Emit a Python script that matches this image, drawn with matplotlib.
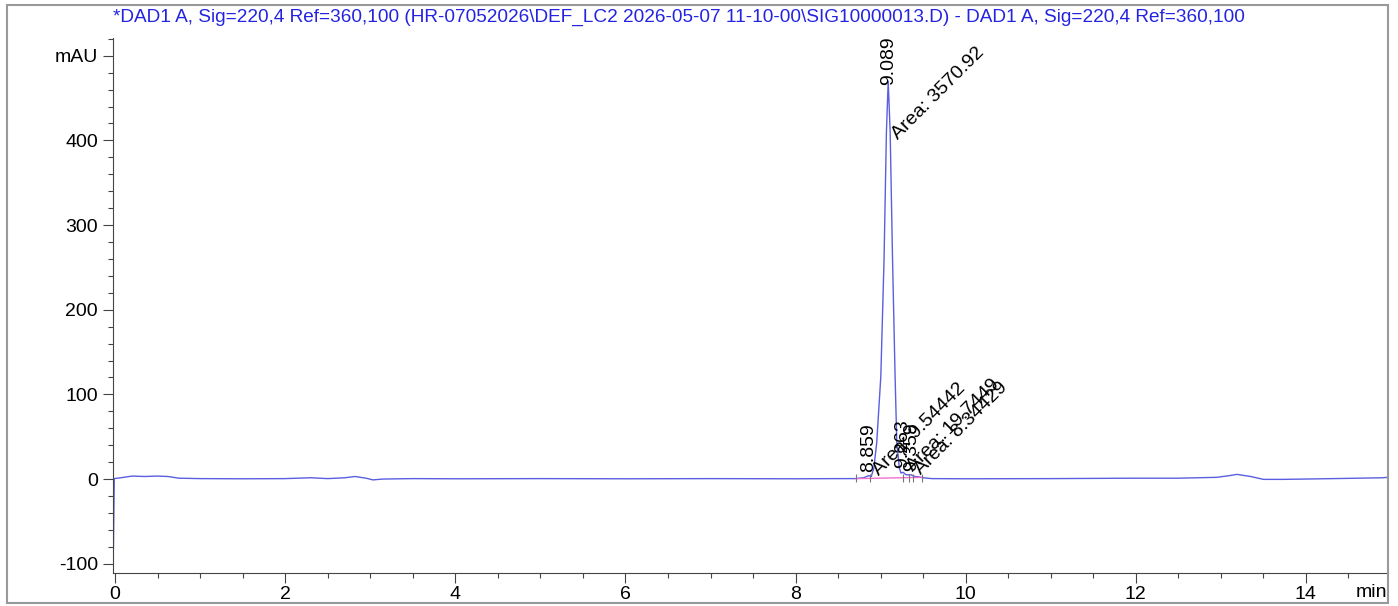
import matplotlib
matplotlib.use('Agg')
import matplotlib.pyplot as plt
from matplotlib.patches import Rectangle
from matplotlib.ticker import MultipleLocator

plt.rcParams['font.family'] = ['Liberation Sans', 'DejaVu Sans']

titulo = ('*DAD1 A, Sig=220,4 Ref=360,100 (HR-07052026\\DEF_LC2 2026-05-07 '
          '11-10-00\\SIG10000013.D) - DAD1 A, Sig=220,4 Ref=360,100')

# Cromatograma (min, mAU)
tiempo = [-0.02, -0.01, 0.1, 0.2, 0.35, 0.5, 0.62, 0.75, 1.0, 1.5, 2.0, 2.3,
          2.5, 2.7, 2.82, 2.95, 3.03, 3.15, 3.5, 4.0, 5.0, 6.0, 7.0, 8.0, 8.5,
          8.7, 8.8, 8.859, 8.89, 8.92, 8.954, 9.002, 9.04, 9.068, 9.089, 9.112,
          9.14, 9.17, 9.19, 9.22, 9.24, 9.263, 9.30, 9.359, 9.40, 9.452, 9.5,
          9.6, 10.0, 11.0, 12.0, 12.5, 12.95, 13.1, 13.19, 13.35, 13.5, 13.73,
          14.0, 14.5, 14.9, 14.96]
senal = [-82, 0.5, 2, 3.5, 3, 3.5, 3, 1, 0.5, 0.3, 0.5, 1.5,
         0.5, 1.5, 3, 1, -1, 0, 0.5, 0.3, 0.5, 0.3, 0.5, 0.3, 0.5,
         0.5, 1.5, 4, 3, 13, 43, 121, 259, 410, 470, 410,
         259, 121, 43, 13, 7, 8, 5, 5, 3, 2.5, 1.5,
         0.5, 0.3, 0.5, 1, 1, 2, 4, 5.5, 3, -0.4, -0.4,
         0, 0.8, 1.5, 2]

picos_tr = [8.859, 9.089, 9.263, 9.359]
picos_altura = [4, 470, 8, 5]
picos_area = ['9.54442', '3570.92', '19.7449', '8.34429']

base_t = [8.71, 9.486]
base_y = [0.5, 2.0]
marcas_t = [8.71, 8.875, 9.263, 9.333, 9.38, 9.486]

fig = plt.figure(figsize=(13.98, 6.06), dpi=100)
ax = fig.add_axes([113 / 1398, 33 / 606, 1275 / 1398, 535 / 606])

ax.plot(tiempo, senal, color='#5a5ee0', lw=1.0)
ax.plot(base_t, base_y, color='#f070d0', lw=1.0)
ax.plot(marcas_t, [1] * len(marcas_t), ls='none', marker='|', ms=6,
        mew=0.8, color='#777777')

for tr, h, area in zip(picos_tr, picos_altura, picos_area):
    dy = 4 if h < 50 else -4
    ax.annotate(f'{tr:.3f}', xy=(tr, h), xytext=(0, dy),
                textcoords='offset pixels', rotation=90, ha='center',
                va='bottom', fontsize=14)
    ax.annotate('Area: ' + area, xy=(tr, min(h, 400)), xytext=(10, 0),
                textcoords='offset pixels', rotation=45,
                rotation_mode='anchor', ha='left', va='baseline', fontsize=14)

ax.set_xlim(-0.025, 14.965)
ax.set_ylim(-111, 521)

ax.set_xticks(range(0, 15, 2))
ax.xaxis.set_minor_locator(MultipleLocator(0.5))
ax.set_yticks([-100, 0, 100, 200, 300, 400, 500])
ax.set_yticklabels(['-100', '0', '100', '200', '300', '400', 'mAU'])
ax.yaxis.set_minor_locator(MultipleLocator(20))

# longitudes en puntos (10 px y 5 px a 100 dpi)
ax.tick_params(axis='both', which='major', length=7.2, width=0.8,
               color='#444444', labelsize=14)
ax.tick_params(axis='both', which='minor', length=3.6, width=0.8,
               color='#444444')
ax.tick_params(axis='x', pad=2)
ax.tick_params(axis='y', pad=3.6)

for lado in ['top', 'right']:
    ax.spines[lado].set_visible(False)
for lado in ['left', 'bottom']:
    ax.spines[lado].set_color('#444444')
    ax.spines[lado].set_linewidth(0.8)

ax.text(0.999, -0.02, 'min', transform=ax.transAxes, ha='right', va='top',
        fontsize=14)

fig.text(0.486, 0.972, titulo, color='#2424e0', ha='center', va='center',
         fontsize=13.7)

fig.patches.append(Rectangle((7 / 1398, 3 / 606), 1381 / 1398, 598 / 606,
                             transform=fig.transFigure, fill=False,
                             edgecolor='#999999', lw=1.5))

fig.savefig('out.png', dpi=100)
